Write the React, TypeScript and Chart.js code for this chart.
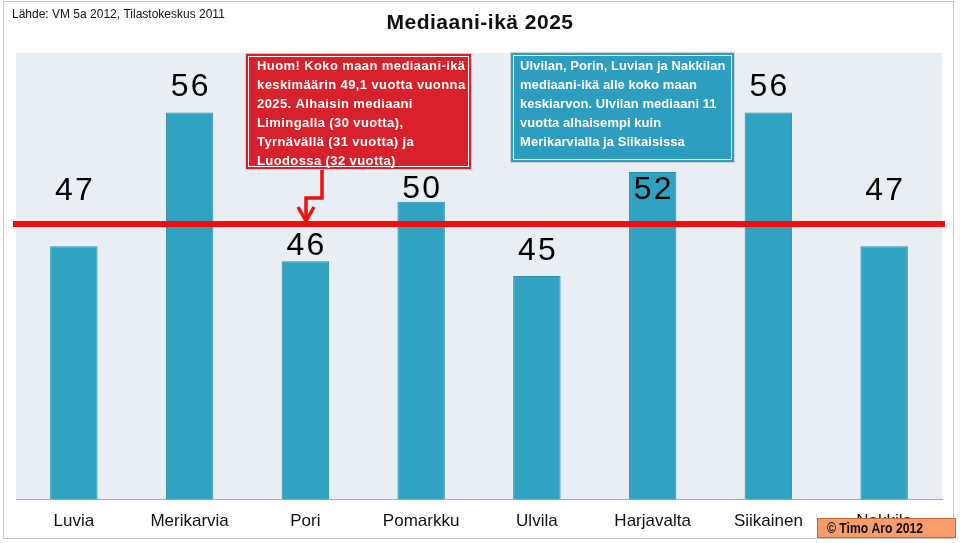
import React, { useEffect, useRef } from "react";
import { Chart, registerables } from "chart.js";

Chart.register(...registerables);

const categories = ["Luvia", "Merikarvia", "Pori", "Pomarkku", "Ulvila", "Harjavalta", "Siikainen", "Nakkila"];
const medianAge = [47, 56, 46, 50, 45, 52, 56, 47];
const nationalLine = 48.5;
const yMin = 30;
const yMax = 60;

const titleText = "Mediaani-ikä 2025";
const sourceText = "Lähde: VM 5a 2012, Tilastokeskus 2011";
const redNote = [
  "Huom! Koko maan mediaani-ikä",
  "keskimäärin 49,1 vuotta vuonna",
  "2025. Alhaisin mediaani",
  "Limingalla (30 vuotta),",
  "Tyrnävällä (31 vuotta) ja",
  "Luodossa (32 vuotta)",
];
const blueNote = [
  "Ulvilan, Porin, Luvian ja Nakkilan",
  "mediaani-ikä alle koko maan",
  "keskiarvon. Ulvilan mediaani 11",
  "vuotta alhaisempi kuin",
  "Merikarvialla ja Siikaisissa",
];
const copyrightText = "© Timo Aro 2012";

// pixel lift of each value label above its bar top (styling)
const labelLift = [55, 25, 15, 12, 25, -18, 25, 55];

const FONT = "'Liberation Sans', Arial, sans-serif";

const decorPlugin = {
  id: "decor",
  beforeDraw(chart: any) {
    const { ctx, chartArea: a, width, height } = chart;
    ctx.save();
    ctx.fillStyle = "#ffffff";
    ctx.fillRect(0, 0, width, height);
    ctx.strokeStyle = "#c8c8c8";
    ctx.lineWidth = 1;
    ctx.strokeRect(3.5, 1.5, 950, 537);
    ctx.fillStyle = "#e8eef3";
    ctx.fillRect(a.left, a.top, a.right - a.left, a.bottom - a.top);
    // source + title
    ctx.fillStyle = "#111";
    ctx.textBaseline = "middle";
    ctx.textAlign = "left";
    ctx.font = `12px ${FONT}`;
    ctx.fillText(sourceText, 12, 15);
    ctx.textAlign = "center";
    ctx.font = `bold 21px ${FONT}`;
    (ctx as any).letterSpacing = "0.5px";
    ctx.fillText(titleText, 480, 23);
    (ctx as any).letterSpacing = "0px";
    ctx.restore();
  },
  afterDatasetsDraw(chart: any) {
    const { ctx, chartArea: a, scales } = chart;
    const y = scales.y.getPixelForValue(nationalLine);
    ctx.save();
    // value labels
    const meta = chart.getDatasetMeta(0);
    ctx.fillStyle = "#000";
    ctx.font = `32px ${FONT}`;
    (ctx as any).letterSpacing = "2px";
    ctx.textAlign = "center";
    ctx.textBaseline = "middle";
    meta.data.forEach((bar: any, i: number) => {
      ctx.fillText(String(medianAge[i]), bar.x + 1, bar.y - labelLift[i]);
    });
    (ctx as any).letterSpacing = "0px";
    // red reference line
    ctx.strokeStyle = "#f20c0c";
    ctx.lineWidth = 6;
    ctx.beginPath();
    ctx.moveTo(a.left - 3, y);
    ctx.lineTo(a.right + 3, y);
    ctx.stroke();

    const drawBox = (x: number, yy: number, w: number, h: number, fill: string, lines: string[], tx: number, ty: number, sp: string) => {
      ctx.fillStyle = fill;
      ctx.fillRect(x, yy, w, h);
      ctx.strokeStyle = "#d0d0d0";
      ctx.lineWidth = 1;
      ctx.strokeRect(x + 0.5, yy + 0.5, w - 1, h - 1);
      ctx.strokeStyle = "#ffffff";
      ctx.strokeRect(x + 3.5, yy + 3.5, w - 7, h - 7);
      ctx.fillStyle = "#ffffff";
      ctx.font = `bold 13px ${FONT}`;
      (ctx as any).letterSpacing = sp;
      ctx.textAlign = "left";
      ctx.textBaseline = "middle";
      lines.forEach((l, i) => ctx.fillText(l, tx, ty + i * 19));
      (ctx as any).letterSpacing = "0px";
    };
    drawBox(245, 53, 227, 117, "#d8212b", redNote, 257, 66, "0.4px");
    drawBox(510, 52, 225, 111, "#2e9ec0", blueNote, 520, 66, "0.05px");

    // arrow
    ctx.strokeStyle = "#f01010";
    ctx.lineWidth = 3.5;
    ctx.lineJoin = "miter";
    ctx.beginPath();
    ctx.moveTo(322, 170);
    ctx.lineTo(322, 198);
    ctx.lineTo(306, 198);
    ctx.lineTo(306, 220);
    ctx.stroke();
    ctx.beginPath();
    ctx.moveTo(298, 207);
    ctx.lineTo(306, 221);
    ctx.lineTo(314, 207);
    ctx.stroke();
    ctx.restore();
  },
  afterDraw(chart: any) {
    const { ctx } = chart;
    ctx.save();
    ctx.fillStyle = "#f89c6c";
    ctx.fillRect(817, 518, 139, 20);
    ctx.strokeStyle = "#c4653c";
    ctx.lineWidth = 1;
    ctx.strokeRect(817.5, 518.5, 138, 19);
    ctx.fillStyle = "#111";
    ctx.font = `bold 14px ${FONT}`;
    ctx.textAlign = "left";
    ctx.textBaseline = "middle";
    const w = ctx.measureText(copyrightText).width;
    const sx = 96 / w;
    ctx.translate(827, 529);
    ctx.scale(sx, 1);
    ctx.fillText(copyrightText, 0, 0);
    ctx.restore();
  },
};

export default function App() {
  const ref = useRef<HTMLCanvasElement | null>(null);
  useEffect(() => {
    document.body.style.margin = "0";
    if (!ref.current) return;
    const chart = new Chart(ref.current, {
      type: "bar",
      data: {
        labels: categories,
        datasets: [
          {
            data: medianAge,
            backgroundColor: "#2fa3c1",
            borderColor: "#2a8ea9",
            borderWidth: 1,
            barPercentage: 0.41,
            categoryPercentage: 1,
          },
        ],
      },
      options: {
        animation: false,
        responsive: false,
        maintainAspectRatio: false,
        layout: { padding: { left: 16, right: 18, top: 53, bottom: 0 } },
        plugins: { legend: { display: false }, title: { display: false }, tooltip: { enabled: false } },
        scales: {
          y: { display: false, min: yMin, max: yMax },
          x: {
            grid: { display: false, drawTicks: false },
            border: { display: true, color: "#a8a8a8", width: 1 },
            ticks: { color: "#111", font: { family: FONT, size: 17 }, padding: 12, maxRotation: 0, autoSkip: false },
            afterFit: (s: any) => {
              s.height = 44;
            },
          },
        },
      },
      plugins: [decorPlugin],
    });
    return () => chart.destroy();
  }, []);
  return (
    <div style={{ width: 960, height: 543 }}>
      <canvas ref={ref} width={960} height={543} style={{ display: "block", width: 960, height: 543 }} />
    </div>
  );
}
